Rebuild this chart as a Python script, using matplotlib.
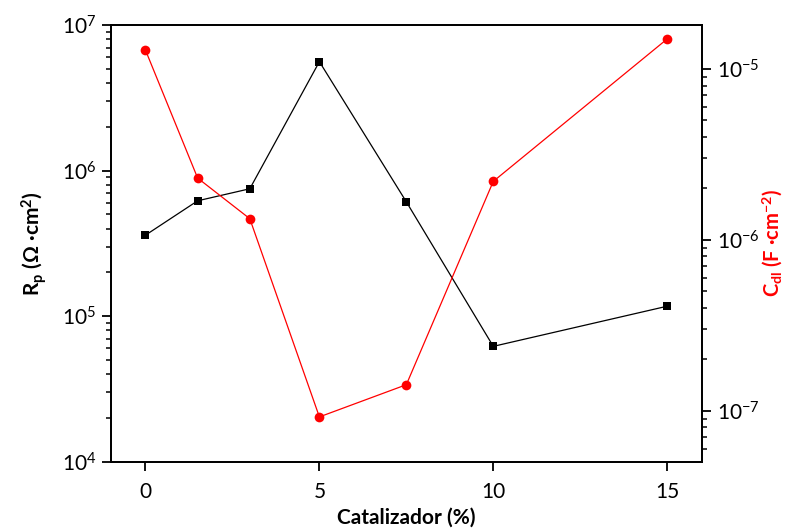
import matplotlib
matplotlib.use("Agg")
import matplotlib.pyplot as plt
from matplotlib.ticker import LogLocator, NullFormatter

plt.rcParams['font.family'] = ['Lato', 'DejaVu Sans']
plt.rcParams['mathtext.fontset'] = 'custom'
plt.rcParams['mathtext.rm'] = 'Lato'
plt.rcParams['mathtext.bf'] = 'Lato:bold'
plt.rcParams['mathtext.it'] = 'Lato:italic'
plt.rcParams['axes.unicode_minus'] = False

# Catalyst loading (%)
catalizador = [0, 1.5, 3, 5, 7.5, 10, 15]
# Polarisation resistance (Ohm cm^2)
rp = [3.6e5, 6.2e5, 7.5e5, 5.6e6, 6.1e5, 6.2e4, 1.17e5]
# Double-layer capacitance (F cm^-2)
cdl = [1.29e-5, 2.3e-6, 1.33e-6, 9.2e-8, 1.42e-7, 2.2e-6, 1.5e-5]

fig = plt.figure(figsize=(7.89, 5.31), dpi=100)
ax = fig.add_axes([0.1403, 0.1305, 0.7494, 0.8224])
ax2 = ax.twinx()

ax.plot(catalizador, rp, color='black', lw=0.9, marker='s', ms=6.2,
        markeredgewidth=0, zorder=3)
ax2.plot(catalizador, cdl, color='red', lw=0.9, marker='o', ms=7,
         markeredgewidth=0, zorder=3)

ax.set_yscale('log')
ax2.set_yscale('log')
ax.set_xlim(-1, 16)
ax.set_ylim(1e4, 1e7)
ax2.set_ylim(5.03e-8, 1.81e-5)
ax.set_xticks([0, 5, 10, 15])

for a in (ax, ax2):
    a.yaxis.set_major_locator(LogLocator(base=10, numticks=10))
    a.yaxis.set_minor_locator(LogLocator(base=10, subs=range(2, 10), numticks=20))
    a.yaxis.set_minor_formatter(NullFormatter())
    for s in a.spines.values():
        s.set_linewidth(1.3)

ax.tick_params(axis='both', which='major', direction='out', length=6.5,
               width=1.3, labelsize=15, pad=4)
ax.tick_params(axis='y', which='minor', direction='out', length=3.5, width=1.1)
ax.tick_params(axis='x', which='major', pad=8)
ax2.tick_params(axis='y', which='major', direction='out', length=6.5,
                width=1.3, labelsize=15, pad=4)
ax2.tick_params(axis='y', which='minor', direction='out', length=3.5, width=1.1)

ax.set_xlabel('Catalizador (%)', fontsize=15, fontweight='bold', labelpad=4)
ax.set_ylabel(r'R$_\mathbf{p}$ (Ω ·cm$^\mathbf{2}$)', fontsize=15,
              fontweight='bold', labelpad=9)
ax2.set_ylabel(r'C$_\mathbf{dl}$ (F ·cm$^\mathbf{-2}$)', fontsize=14.5,
               fontweight='bold', color='red', labelpad=1)

fig.savefig('out.png', dpi=100)
